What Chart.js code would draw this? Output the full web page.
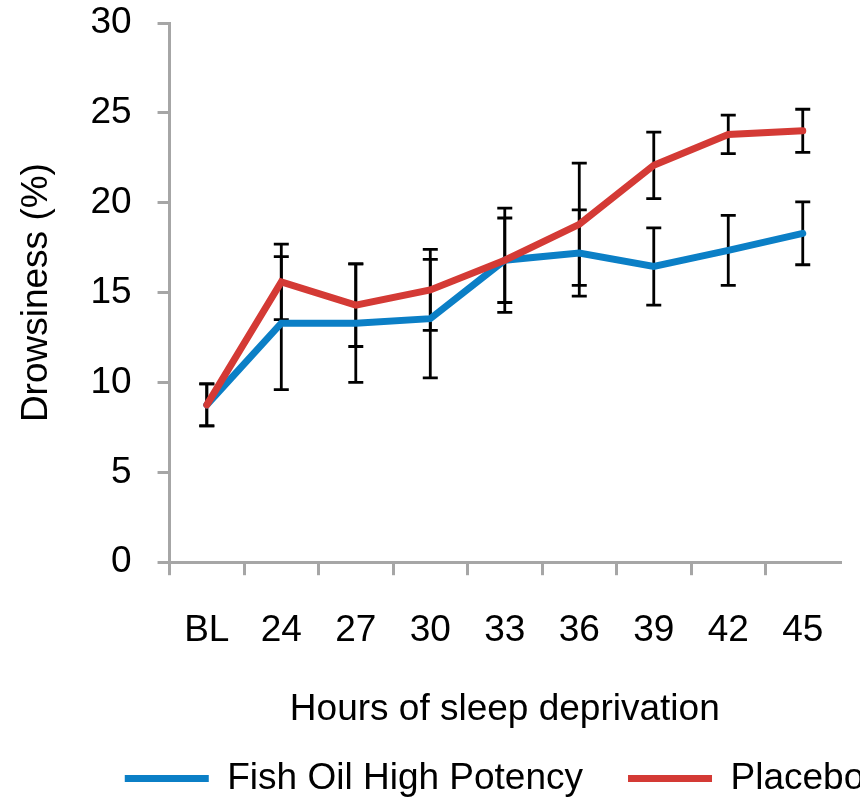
<!DOCTYPE html>
<html>
<head>
<meta charset="utf-8">
<script src="https://cdn.jsdelivr.net/npm/chart.js@4/dist/chart.umd.min.js"></script>
<style>
  html, body { margin: 0; padding: 0; background: #fff; overflow: hidden; }
  canvas { display: block; }
</style>
</head>
<body>
<canvas id="sleepChart" width="976" height="801"></canvas>
<script>
const hours = ['BL', '24', '27', '30', '33', '36', '39', '42', '45'];
const fishOil = [8.75, 13.3, 13.3, 13.55, 16.8, 17.2, 16.45, 17.35, 18.3];
const fishOilErr = [1.17, 3.7, 3.3, 3.3, 2.9, 2.4, 2.15, 1.95, 1.75];
const placebo = [8.75, 15.6, 14.3, 15.15, 16.8, 18.8, 22.08, 23.8, 24.0];
const placeboErr = [1.17, 2.1, 2.3, 2.25, 2.35, 3.4, 1.85, 1.07, 1.2];
const yTicks = [0, 5, 10, 15, 20, 25, 30];

const BLUE = '#0b7fc6';
const RED = '#d43a35';
const GRAY = '#a6a6a6';
const FONT = { family: '"Liberation Sans", Arial, sans-serif', size: 37 };

// error bars sit under the lines
const errorBars = {
  id: 'errorBars',
  beforeDatasetsDraw(chart) {
    const { ctx, scales: { x, y } } = chart;
    const sets = [[fishOil, fishOilErr], [placebo, placeboErr]];
    ctx.save();
    ctx.strokeStyle = '#000';
    ctx.lineWidth = 2.8;
    sets.forEach(([vals, errs]) => {
      vals.forEach((v, i) => {
        const px = x.getPixelForValue(i);
        const top = y.getPixelForValue(v + errs[i]);
        const bot = y.getPixelForValue(v - errs[i]);
        ctx.beginPath();
        ctx.moveTo(px, top); ctx.lineTo(px, bot);
        ctx.moveTo(px - 7.5, top); ctx.lineTo(px + 7.5, top);
        ctx.moveTo(px - 7.5, bot); ctx.lineTo(px + 7.5, bot);
        ctx.stroke();
      });
    });
    ctx.restore();
  }
};

new Chart(document.getElementById('sleepChart'), {
  type: 'line',
  data: {
    labels: hours,
    datasets: [
      {
        label: 'Fish Oil High Potency',
        data: fishOil,
        borderColor: BLUE,
        backgroundColor: BLUE,
        borderWidth: 7,
        borderCapStyle: 'round',
        pointRadius: 0,
        order: 1
      },
      {
        label: 'Placebo',
        data: placebo,
        borderColor: RED,
        backgroundColor: RED,
        borderWidth: 7,
        borderCapStyle: 'round',
        pointRadius: 0,
        order: 0
      }
    ]
  },
  options: {
    responsive: false,
    animation: false,
    devicePixelRatio: 1,
    layout: { padding: { top: 23, left: 13, bottom: -6 } },
    plugins: {
      tooltip: { enabled: false },
      legend: {
        position: 'bottom',
        labels: {
          color: '#000',
          font: FONT,
          boxWidth: 84,
          boxHeight: 7,
          padding: 45,
          useBorderRadius: true,
          borderRadius: 3.5,
          generateLabels: chart => chart.data.datasets.map((ds, i) => ({
            text: ds.label,
            fillStyle: ds.borderColor,
            strokeStyle: ds.borderColor,
            lineWidth: 0,
            fontColor: '#000',
            datasetIndex: i
          }))
        }
      }
    },
    scales: {
      x: {
        offset: true,
        border: { color: GRAY, width: 3 },
        grid: {
          offset: true,
          drawOnChartArea: false,
          tickLength: 13,
          lineWidth: 3,
          color: c => (c.tick ? GRAY : 'rgba(0,0,0,0)')
        },
        ticks: { color: '#000', font: FONT, padding: 33, maxRotation: 0, autoSkip: false },
        title: {
          display: true,
          text: 'Hours of sleep deprivation',
          color: '#000',
          font: FONT,
          padding: { top: 2, bottom: -17 }
        }
      },
      y: {
        min: 0,
        max: 30,
        afterBuildTicks: s => { s.ticks = yTicks.map(v => ({ value: v })); },
        afterFit: s => { s.paddingTop = 0; s.paddingBottom = 0; },
        border: { color: GRAY, width: 3 },
        grid: { drawOnChartArea: false, tickLength: 12, lineWidth: 3, color: GRAY },
        ticks: { color: '#000', font: FONT, padding: 26 },
        title: {
          display: true,
          text: 'Drowsiness (%)',
          color: '#000',
          font: FONT,
          padding: { top: 2, bottom: 5 }
        }
      },
      // spacer on the right so the full-width legend sits like the original
      yRight: {
        position: 'right',
        display: true,
        grid: { display: false },
        border: { display: false },
        ticks: { display: false },
        afterFit: s => { s.width = 136; }
      }
    }
  },
  plugins: [errorBars]
});
</script>
</body>
</html>
